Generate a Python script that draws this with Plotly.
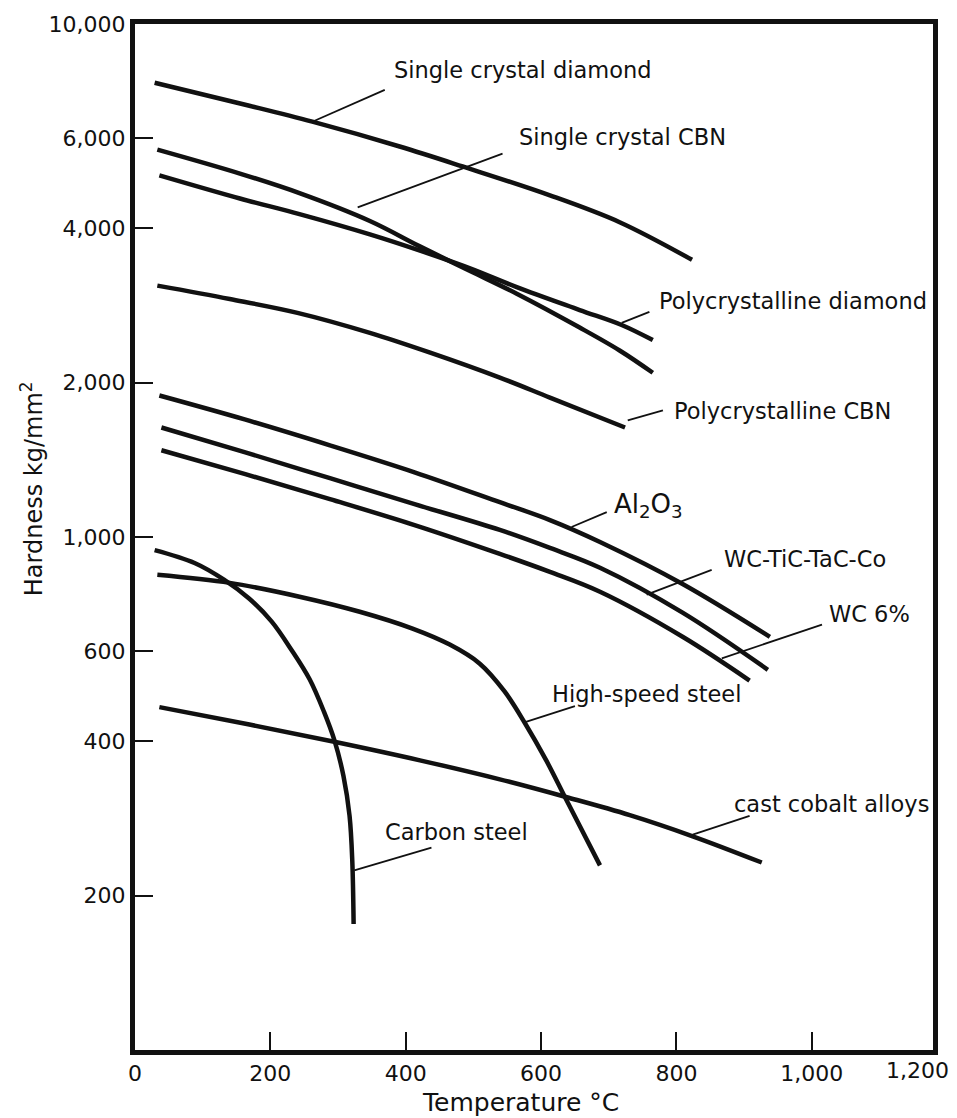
import math
import plotly.graph_objects as go

FONT = "DejaVu Sans"
INK = "#111111"

# ---- curve data: temperature (deg C) vs hardness (kg/mm^2) ----
sc_diamond_t = [29, 169, 262, 391, 484, 613, 716, 823]
sc_diamond_h = [7680, 6930, 6450, 5770, 5276, 4634, 4108, 3470]

sc_cbn_t = [33, 155, 243, 347, 420, 495, 564, 657, 716, 765]
sc_cbn_h = [5690, 5110, 4680, 4130, 3690, 3300, 2980, 2560, 2310, 2090]

poly_diamond_t = [36, 155, 243, 347, 420, 495, 564, 657, 719, 765]
poly_diamond_h = [5070, 4570, 4260, 3890, 3620, 3340, 3070, 2770, 2590, 2420]

poly_cbn_t = [33, 140, 240, 347, 435, 539, 613, 724]
poly_cbn_h = [3090, 2910, 2735, 2500, 2290, 2045, 1870, 1635]

al2o3_t = [36, 162, 288, 413, 539, 613, 687, 809, 938]
al2o3_h = [1887, 1695, 1509, 1337, 1169, 1079, 978, 810, 639]

wc_tic_t = [39, 163, 288, 413, 539, 613, 687, 809, 935]
wc_tic_h = [1635, 1462, 1302, 1159, 1032, 952, 871, 712, 551]

wc6_t = [39, 163, 288, 413, 539, 613, 687, 809, 908]
wc6_h = [1476, 1326, 1185, 1055, 927, 855, 782, 639, 525]

hss_t = [33, 140, 243, 332, 410, 465, 509, 546, 576, 608, 638, 687]
hss_h = [844, 814, 765, 715, 663, 617, 567, 500, 434, 366, 306, 229]

cobalt_t = [36, 169, 298, 421, 539, 638, 731, 824, 926]
cobalt_h = [466, 431, 398, 367, 337, 311, 287, 261, 232]

carbon_t = [29, 88, 132, 169, 202, 231, 258, 279, 295, 308, 317, 321, 323]
carbon_h = [943, 890, 825, 758, 684, 603, 528, 457, 400, 342, 286, 234, 176]

# ---- labels and leader lines ----
labels = ["Single crystal diamond", "Single crystal CBN", "Polycrystalline diamond",
          "Polycrystalline CBN", "Al<sub>2</sub>O<sub>3</sub>", "WC-TiC-TaC-Co", "WC 6%",
          "High-speed steel", "cast cobalt alloys", "Carbon steel"]
label_size = [22.5, 22.5, 22.5, 22.5, 26, 22.5, 22.5, 22.5, 22.5, 22.5]
label_t = [379, 565, 771, 793, 704, 867, 1022, 613, 882, 366]
label_h = [8141, 6035, 2885, 1757, 1150, 907, 709, 494, 302, 266]
lead_t0 = [262, 329, 719, 728, 645, 756, 867, 573, 824, 324]
lead_h0 = [6450, 4390, 2615, 1688, 1046, 772, 580, 434, 263, 224]
lead_t1 = [369, 543, 760, 780, 697, 852, 1015, 650, 908, 438]
lead_h1 = [7440, 5590, 2747, 1765, 1118, 863, 675, 468, 286, 248]

x_ticks = [0, 200, 400, 600, 800, 1000]
x_ticktext = ["0", "200", "400", "600", "800", "1,000"]
y_ticks = [200, 400, 600, 1000, 2000, 4000, 6000, 10000]
y_ticktext = ["200", "400", "600", "1,000", "2,000", "4,000", "6,000", "10,000"]

series = [
    (sc_diamond_t, sc_diamond_h, "Single crystal diamond"),
    (sc_cbn_t, sc_cbn_h, "Single crystal CBN"),
    (poly_diamond_t, poly_diamond_h, "Polycrystalline diamond"),
    (poly_cbn_t, poly_cbn_h, "Polycrystalline CBN"),
    (al2o3_t, al2o3_h, "Al2O3"),
    (wc_tic_t, wc_tic_h, "WC-TiC-TaC-Co"),
    (wc6_t, wc6_h, "WC 6%"),
    (hss_t, hss_h, "High-speed steel"),
    (cobalt_t, cobalt_h, "cast cobalt alloys"),
    (carbon_t, carbon_h, "Carbon steel"),
]

fig = go.Figure()
for t, h, name in series:
    fig.add_trace(go.Scatter(
        x=t, y=h, mode="lines", name=name,
        line=dict(color=INK, width=4.5, shape="spline", smoothing=1.0),
    ))

for i, txt in enumerate(labels):
    fig.add_shape(type="line", xref="x", yref="y",
                  x0=lead_t0[i], y0=lead_h0[i], x1=lead_t1[i], y1=lead_h1[i],
                  line=dict(color=INK, width=1.8))
    fig.add_annotation(x=label_t[i], y=math.log10(label_h[i]), xref="x", yref="y",
                       text=txt, showarrow=False, xanchor="left", yanchor="middle",
                       font=dict(family=FONT, size=label_size[i], color=INK))

# axis titles and the last x tick label (sits beyond the drawn frame)
fig.add_annotation(x=-0.129, y=0.5466, xref="paper", yref="paper",
                   text="Hardness kg/mm<sup>2</sup>", textangle=-90, showarrow=False,
                   xanchor="center", yanchor="middle",
                   font=dict(family=FONT, size=24, color=INK))
fig.add_annotation(x=0.4825, y=-0.0515, xref="paper", yref="paper",
                   text="Temperature °C", showarrow=False,
                   xanchor="center", yanchor="middle",
                   font=dict(family=FONT, size=25, color=INK))
fig.add_annotation(x=0.981, y=-0.0204, xref="paper", yref="paper",
                   text="1,200", showarrow=False, xanchor="center", yanchor="middle",
                   font=dict(family=FONT, size=22, color=INK))

fig.update_layout(
    width=957, height=1118,
    margin=dict(l=135, r=24, t=20, b=68),
    paper_bgcolor="white", plot_bgcolor="white",
    showlegend=False,
    font=dict(family=FONT, size=22, color=INK),
)
fig.update_xaxes(
    range=[0, 1179], tickvals=x_ticks, ticktext=x_ticktext,
    ticks="inside", ticklen=18, tickwidth=2, tickcolor=INK,
    showline=True, linewidth=5, linecolor=INK, mirror=True,
    showgrid=False, zeroline=False, ticklabelstandoff=0,
    tickfont=dict(family=FONT, size=22, color=INK),
)
fig.update_yaxes(
    type="log", range=[2, 4], tickvals=y_ticks, ticktext=y_ticktext,
    ticks="inside", ticklen=18, tickwidth=2, tickcolor=INK,
    showline=True, linewidth=5, linecolor=INK, mirror=True,
    showgrid=False, zeroline=False, ticklabelstandoff=0,
    tickfont=dict(family=FONT, size=22, color=INK),
)

fig.write_html("out.html", config={"displayModeBar": False},
               post_script="document.body.style.margin='0';")
